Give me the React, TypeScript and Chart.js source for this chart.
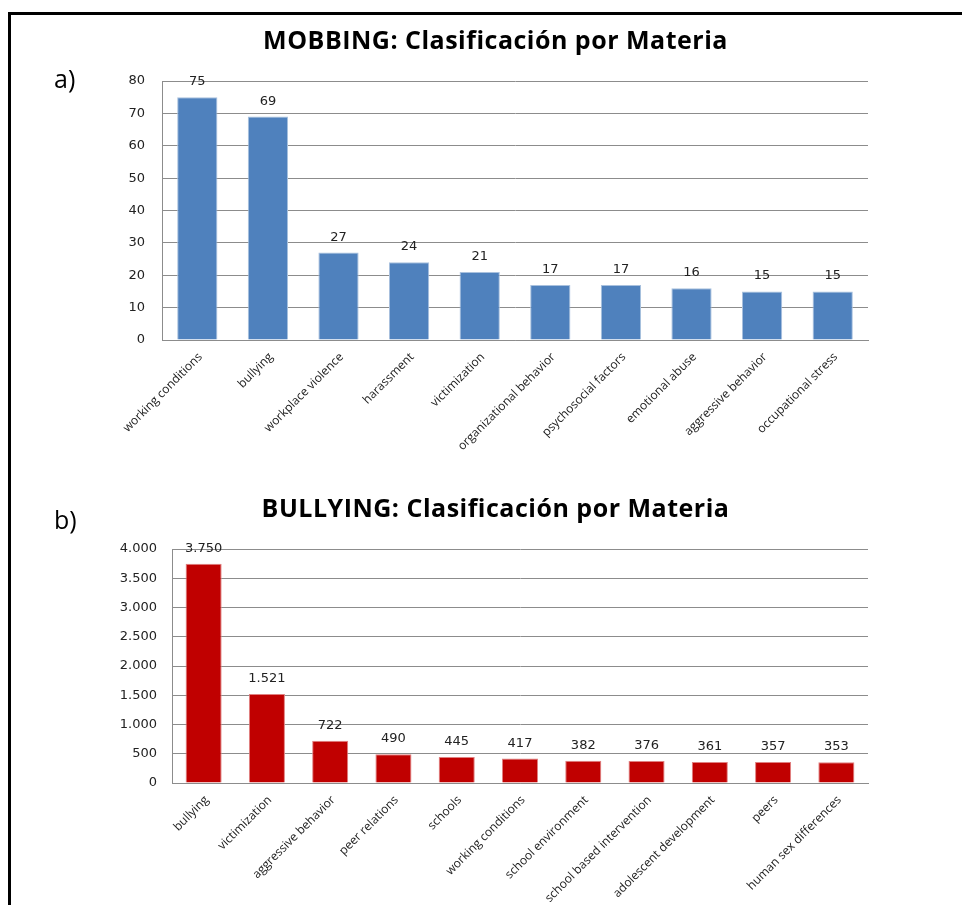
import React, { useEffect, useRef } from "react";
import { Chart, registerables } from "chart.js";

Chart.register(...registerables);

// ---- Data ----
const mobbingTitle = "MOBBING: Clasificación por Materia";
const mobbingCategories = [
  "working conditions",
  "bullying",
  "workplace violence",
  "harassment",
  "victimization",
  "organizational behavior",
  "psychosocial factors",
  "emotional abuse",
  "aggressive behavior",
  "occupational stress",
];
const mobbingValues = [75, 69, 27, 24, 21, 17, 17, 16, 15, 15];
const mobbingAxis = [0, 80, 10]; // min, max, step

const bullyingTitle = "BULLYING: Clasificación por Materia";
const bullyingCategories = [
  "bullying",
  "victimization",
  "aggressive behavior",
  "peer relations",
  "schools",
  "working conditions",
  "school environment",
  "school based intervention",
  "adolescent development",
  "peers",
  "human sex differences",
];
const bullyingValues = [3750, 1521, 722, 490, 445, 417, 382, 376, 361, 357, 353];
const bullyingAxis = [0, 4000, 500];

const fmt = (v: number) =>
  Math.round(v)
    .toString()
    .replace(/\B(?=(\d{3})+(?!\d))/g, ".");

const valueLabels = {
  id: "valueLabels",
  afterDatasetsDraw(chart: any) {
    const ctx = chart.ctx;
    const meta = chart.getDatasetMeta(0);
    const data = chart.data.datasets[0].data as number[];
    ctx.save();
    ctx.font = "13px 'DejaVu Sans'";
    ctx.fillStyle = "#222";
    ctx.textAlign = "center";
    ctx.textBaseline = "alphabetic";
    meta.data.forEach((bar: any, i: number) => {
      ctx.fillText(fmt(data[i]), bar.x, bar.y - 12);
    });
    ctx.restore();
  },
};

type Cfg = {
  labels: string[];
  values: number[];
  axis: number[];
  color: string;
  border: string;
  width: number;
  height: number;
  padTop: number;
  padRight: number;
  yWidth: number;
  xHeight: number;
  tickPad: number;
};

function BarChart({ cfg }: { cfg: Cfg }) {
  const ref = useRef<HTMLCanvasElement | null>(null);
  useEffect(() => {
    if (!ref.current) return;
    const chart = new Chart(ref.current, {
      type: "bar",
      data: {
        labels: cfg.labels,
        datasets: [
          {
            data: cfg.values,
            backgroundColor: cfg.color,
            borderColor: cfg.border,
            borderWidth: 1,
            categoryPercentage: 1,
            barPercentage: 0.57,
          },
        ],
      },
      options: {
        responsive: false,
        animation: false,
        layout: { padding: { top: cfg.padTop, right: cfg.padRight, left: 0, bottom: 0 } },
        plugins: {
          legend: { display: false },
          tooltip: { enabled: false },
          title: { display: false },
        },
        scales: {
          x: {
            grid: { display: false, drawTicks: false },
            border: { display: true, color: "#8c8c8c", width: 1 },
            ticks: {
              autoSkip: false,
              maxRotation: 45,
              minRotation: 45,
              padding: 10,
              labelOffset: 3,
              color: "#1a1a1a",
              font: { family: "'Open Sans'", size: 12 },
            },
            afterFit: (s: any) => {
              s.height = cfg.xHeight;
            },
          },
          y: {
            min: cfg.axis[0],
            max: cfg.axis[1],
            ticks: {
              stepSize: cfg.axis[2],
              padding: cfg.tickPad,
              color: "#222",
              font: { family: "'DejaVu Sans'", size: 13 },
              callback: (v: any) => fmt(Number(v)),
            },
            grid: { color: "#8c8c8c", drawTicks: false },
            border: { display: true, color: "#8c8c8c", width: 1 },
            afterFit: (s: any) => {
              s.width = cfg.yWidth;
            },
          },
        },
      },
      plugins: [valueLabels],
    } as any);
    return () => chart.destroy();
  }, [cfg]);
  return <canvas ref={ref} width={cfg.width} height={cfg.height} style={{ display: "block" }} />;
}

const cfgA: Cfg = {
  labels: mobbingCategories,
  values: mobbingValues,
  axis: mobbingAxis,
  color: "#4F81BD",
  border: "#a9c1de",
  width: 962,
  height: 470,
  padTop: 81,
  padRight: 94,
  yWidth: 162,
  xHeight: 130,
  tickPad: 17,
};

const cfgB: Cfg = {
  labels: bullyingCategories,
  values: bullyingValues,
  axis: bullyingAxis,
  color: "#C00000",
  border: "#e08080",
  width: 962,
  height: 435,
  padTop: 79,
  padRight: 94,
  yWidth: 172,
  xHeight: 122,
  tickPad: 15,
};

const titleStyle: React.CSSProperties = {
  position: "absolute",
  left: 0,
  width: 991,
  textAlign: "center",
  fontFamily: "'Open Sans', sans-serif",
  fontWeight: 700,
  fontSize: 25,
  letterSpacing: "0.5px",
  lineHeight: "25px",
  color: "#000",
  whiteSpace: "nowrap",
};

const letterStyle: React.CSSProperties = {
  position: "absolute",
  left: 54,
  fontFamily: "'Open Sans', sans-serif",
  fontSize: 25,
  lineHeight: "25px",
  color: "#000",
};

export default function App() {
  return (
    <div
      style={{
        position: "absolute",
        left: 0,
        top: 0,
        width: 962,
        height: 905,
        overflow: "hidden",
        background: "#fff",
      }}
    >
      <div style={{ position: "absolute", left: 0, top: 0 }}>
        <BarChart cfg={cfgA} />
      </div>
      <div style={{ position: "absolute", left: 0, top: 470 }}>
        <BarChart cfg={cfgB} />
      </div>
      <div style={{ ...titleStyle, top: 27 }}>{mobbingTitle}</div>
      <div style={{ ...titleStyle, top: 495 }}>{bullyingTitle}</div>
      <div style={{ ...letterStyle, top: 66 }}>a)</div>
      <div style={{ ...letterStyle, top: 507 }}>b)</div>
      <div
        style={{
          position: "absolute",
          left: 8,
          top: 12,
          width: 1000,
          height: 1000,
          borderLeft: "3px solid #000",
          borderTop: "3px solid #000",
          pointerEvents: "none",
        }}
      />
    </div>
  );
}
